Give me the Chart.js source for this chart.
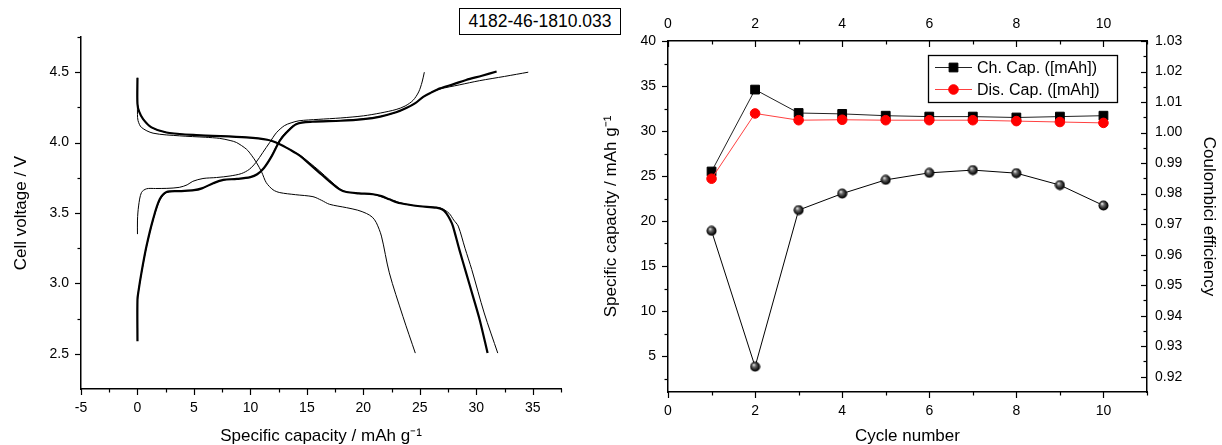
<!DOCTYPE html>
<html><head><meta charset="utf-8">
<script src="https://cdn.jsdelivr.net/npm/chart.js@4.4.1/dist/chart.umd.min.js"></script>
<style>
html,body{margin:0;padding:0;background:#fff;width:1222px;height:445px;overflow:hidden;}
#left{position:absolute;left:0;top:0;}
#right{position:absolute;left:590px;top:0;}
#tag{position:absolute;left:459px;top:8px;width:162px;height:27px;box-sizing:border-box;border:1px solid #000;
 font-family:'Liberation Sans',Arial,sans-serif;font-size:17.5px;line-height:25px;text-align:center;color:#000;background:#fff;z-index:5;}
</style></head>
<body>
<canvas id="left" width="590" height="445"></canvas>
<canvas id="right" width="632" height="445"></canvas>
<div id="tag">4182-46-1810.033</div>
<script>
// ---------- Left chart: voltage profiles ----------
const ch1Cap  = [0, 0, 0.1, 0.35, 0.8, 1.6, 2.6, 3.7, 4.4, 4.9, 5.8, 7.0, 8.2, 9.2, 9.9, 10.5, 11.1, 11.7, 12.3, 13.0, 13.6, 14.3, 16.0, 18.0, 20.0, 21.5, 22.9, 23.7, 24.4, 24.9, 25.2, 25.4];
const ch1Volt = [3.35, 3.45, 3.55, 3.645, 3.672, 3.674, 3.675, 3.682, 3.70, 3.725, 3.745, 3.752, 3.763, 3.78, 3.81, 3.86, 3.93, 4.0, 4.07, 4.12, 4.14, 4.155, 4.165, 4.175, 4.19, 4.21, 4.235, 4.26, 4.30, 4.36, 4.43, 4.50];

const chBundleCap  = [0, 0, 0.1, 0.35, 0.8, 1.38, 1.97, 2.57, 3.7, 5.0, 5.7, 6.7, 7.6, 8.8, 10.0, 10.6, 11.2, 11.9, 12.6, 13.2, 14.1, 15.5, 18.0, 20.0, 21.5, 22.9, 23.8, 24.6, 25.3, 26.0, 26.8, 28.0, 29.1, 30.5, 31.8];
const chBundleVolt = [2.59, 2.885, 2.95, 3.075, 3.265, 3.455, 3.597, 3.649, 3.656, 3.662, 3.675, 3.711, 3.735, 3.742, 3.755, 3.775, 3.82, 3.906, 4.013, 4.072, 4.132, 4.148, 4.155, 4.167, 4.185, 4.215, 4.245, 4.28, 4.325, 4.355, 4.385, 4.415, 4.445, 4.475, 4.505];

const ch2Cap  = [0, 0, 0.1, 0.35, 0.8, 1.38, 1.97, 2.57, 3.7, 5.0, 5.7, 6.7, 7.6, 8.8, 10.0, 10.6, 11.2, 11.9, 12.6, 13.2, 14.1, 15.5, 18.0, 20.0, 21.5, 22.9, 23.8, 24.6, 25.3, 26.0, 26.75, 28.5, 30.3, 32.5, 34.6];
const ch2Volt = [2.6, 2.88, 2.95, 3.07, 3.26, 3.45, 3.59, 3.645, 3.655, 3.662, 3.675, 3.71, 3.735, 3.742, 3.755, 3.775, 3.82, 3.91, 4.02, 4.08, 4.135, 4.15, 4.157, 4.168, 4.185, 4.215, 4.245, 4.28, 4.325, 4.355, 4.38, 4.41, 4.44, 4.47, 4.50];

const dis1Cap  = [0, 0, 0.05, 0.35, 1.38, 3.74, 6.0, 7.28, 8.2, 8.76, 9.65, 10.1, 10.53, 11.0, 11.4, 12.0, 12.6, 14.0, 15.54, 16.3, 17.0, 18.5, 19.5, 20.27, 20.8, 21.15, 21.6, 22.3, 23.5, 24.6];
const dis1Volt = [4.27, 4.2, 4.156, 4.108, 4.067, 4.048, 4.038, 4.03, 4.015, 4.001, 3.953, 3.91, 3.859, 3.79, 3.716, 3.665, 3.645, 3.63, 3.616, 3.59, 3.562, 3.538, 3.52, 3.497, 3.47, 3.431, 3.336, 3.075, 2.766, 2.505];

const disBundleCap  = [0, 0, 0.15, 0.5, 1.24, 2.57, 5.2, 9.65, 11.5, 12.6, 13.5, 14.4, 15.2, 16.1, 17.0, 17.9, 18.5, 19.6, 20.85, 21.6, 22.3, 23.0, 23.8, 25.0, 26.46, 27.0, 27.35, 27.7, 27.93, 28.5, 29.1, 29.7, 30.3, 31.0];
const disBundleVolt = [4.46, 4.274, 4.22, 4.167, 4.108, 4.072, 4.053, 4.037, 4.02, 3.989, 3.95, 3.906, 3.85, 3.787, 3.725, 3.668, 3.649, 3.64, 3.633, 3.62, 3.597, 3.575, 3.562, 3.548, 3.538, 3.525, 3.497, 3.45, 3.407, 3.24, 3.075, 2.91, 2.742, 2.505];

const dis2Cap  = [0, 0, 0.15, 0.5, 1.24, 2.57, 5.2, 9.65, 11.5, 12.6, 13.5, 14.4, 15.2, 16.1, 17.0, 17.9, 18.5, 19.6, 20.85, 22.3, 23.8, 25.0, 26.46, 27.0, 27.6, 28.0, 28.4, 29.0, 29.6, 30.7, 31.9];
const dis2Volt = [4.46, 4.274, 4.22, 4.167, 4.108, 4.072, 4.053, 4.037, 4.02, 3.989, 3.95, 3.91, 3.86, 3.80, 3.735, 3.672, 3.65, 3.64, 3.633, 3.597, 3.562, 3.548, 3.54, 3.53, 3.497, 3.45, 3.407, 3.25, 3.098, 2.79, 2.505];

const leftXTicks = [-5, 0, 5, 10, 15, 20, 25, 30, 35];
const leftXMinor = [-2.5, 2.5, 7.5, 12.5, 17.5, 22.5, 27.5, 32.5, 37.5];
const leftYTicks = [2.5, 3.0, 3.5, 4.0, 4.5];
const leftYMinor = [2.75, 3.25, 3.75, 4.25, 4.75];

// ---------- Right chart: cycling ----------
const cycles = [1, 2, 3, 4, 5, 6, 7, 8, 9, 10];
const chCap  = [25.5, 34.6, 32.0, 31.9, 31.7, 31.6, 31.6, 31.5, 31.6, 31.7];
const disCap = [24.7, 31.95, 31.2, 31.25, 31.2, 31.2, 31.2, 31.1, 31.0, 30.9];
const coulEff = [0.9678, 0.9233, 0.9746, 0.9800, 0.9845, 0.9868, 0.9877, 0.9867, 0.9828, 0.9761];

const cycleTicks = [0, 2, 4, 6, 8, 10];
const cycleMinor = [1, 3, 5, 7, 9, 11];
const capTicks = [5, 10, 15, 20, 25, 30, 35, 40];
const capMinor = [2.5, 7.5, 12.5, 17.5, 22.5, 27.5, 32.5, 37.5];
const ceTicks = [0.92, 0.93, 0.94, 0.95, 0.96, 0.97, 0.98, 0.99, 1.00, 1.01, 1.02, 1.03];
const ceMinor = [0.925, 0.935, 0.945, 0.955, 0.965, 0.975, 0.985, 0.995, 1.005, 1.015, 1.025];

const FONT = "'Liberation Sans', Arial, sans-serif";
Chart.defaults.font.family = FONT;
Chart.defaults.color = '#000';

const pts = (xs, ys) => xs.map((x, i) => ({x: x, y: ys[i]}));
const setTicks = arr => (s => { s.ticks = arr.map(v => ({value: v})); });

function makeTickPlugin(specs) {
  return {
    id: 'tickMarks',
    afterDraw(chart) {
      const ctx = chart.ctx, ca = chart.chartArea;
      ctx.save();
      ctx.strokeStyle = '#000';
      ctx.lineWidth = 1.2;
      specs.forEach(sp => {
        const s = chart.scales[sp.scale];
        const draw = (v, len) => {
          const p = Math.round(s.getPixelForValue(v)) + 0.5;
          ctx.beginPath();
          if (s.isHorizontal()) {
            const base = s.position === 'bottom' ? ca.bottom : ca.top;
            const outSign = s.position === 'bottom' ? 1 : -1;
            const sign = sp.dir === 'out' ? outSign : -outSign;
            ctx.moveTo(p, base); ctx.lineTo(p, base + sign * len);
          } else {
            const base = s.position === 'left' ? ca.left : ca.right;
            const outSign = s.position === 'left' ? -1 : 1;
            const sign = sp.dir === 'out' ? outSign : -outSign;
            ctx.moveTo(base, p); ctx.lineTo(base + sign * len, p);
          }
          ctx.stroke();
        };
        s.ticks.forEach(t => draw(t.value, 6));
        sp.minor.forEach(v => draw(v, 3.5));
      });
      ctx.restore();
    }
  };
}

const tickFont = {size: 14, family: FONT};
const titleFont = {size: 17, family: FONT, lineHeight: 1};
const gridOpts = {display: true, drawOnChartArea: false, drawTicks: false};
const borderOpts = {display: true, color: '#000', width: 1.5};

const thin = (xs, ys) => ({data: pts(xs, ys), showLine: true, pointRadius: 0, borderColor: '#000', borderWidth: 1, tension: 0.3, fill: false});
const thick = (xs, ys) => ({data: pts(xs, ys), showLine: true, pointRadius: 0, borderColor: '#000', borderWidth: 2.2, tension: 0.3, fill: false});

new Chart(document.getElementById('left'), {
  type: 'scatter',
  data: {datasets: [
    thin(ch1Cap, ch1Volt),
    thin(ch2Cap, ch2Volt),
    thin(dis1Cap, dis1Volt),
    thin(dis2Cap, dis2Volt),
    thick(chBundleCap, chBundleVolt),
    thick(disBundleCap, disBundleVolt)
  ]},
  options: {
    responsive: false, animation: false, devicePixelRatio: 1,
    layout: {padding: {left: 0, right: 29, top: 37, bottom: 0}},
    plugins: {legend: {display: false}, tooltip: {enabled: false}},
    scales: {
      x: {type: 'linear', position: 'bottom', min: -5, max: 37.5,
        afterBuildTicks: setTicks(leftXTicks), afterFit: s => { s.height = 56; },
        grid: gridOpts, border: borderOpts,
        ticks: {font: tickFont, padding: 11, color: '#000', callback: v => String(v)},
        title: {display: true, text: 'Specific capacity / mAh g\u207B\u00B9', font: titleFont, padding: {top: 0, bottom: 0}, color: '#000'}},
      y: {type: 'linear', position: 'left', min: 2.25, max: 4.75,
        afterBuildTicks: setTicks(leftYTicks), afterFit: s => { s.width = 81; },
        grid: gridOpts, border: borderOpts,
        ticks: {font: tickFont, padding: 12, color: '#000', callback: v => Number(v).toFixed(1)},
        title: {display: true, text: 'Cell voltage / V', font: titleFont, padding: {top: 13, bottom: 0}, color: '#000'}}
    }
  },
  plugins: [makeTickPlugin([
    {scale: 'x', dir: 'out', minor: leftXMinor},
    {scale: 'y', dir: 'out', minor: leftYMinor}
  ])]
});

// sphere marker for coulombic efficiency
function sphere() {
  const c = document.createElement('canvas');
  c.width = 11; c.height = 11;
  const g = c.getContext('2d');
  const grd = g.createRadialGradient(4, 3.6, 0.3, 5.5, 5.5, 5.4);
  grd.addColorStop(0, '#e6e6e6');
  grd.addColorStop(0.3, '#6a6a6a');
  grd.addColorStop(0.75, '#111');
  grd.addColorStop(1, '#000');
  g.fillStyle = grd;
  g.beginPath(); g.arc(5.5, 5.5, 5, 0, Math.PI * 2); g.fill();
  return c;
}
const sphereImg = sphere();

const legendPlugin = {
  id: 'boxLegend',
  afterDraw(chart) {
    const ctx = chart.ctx, ca = chart.chartArea;
    const x0 = ca.left + 260, y0 = ca.top + 14, w = 189, h = 47;
    ctx.save();
    ctx.fillStyle = '#fff';
    ctx.fillRect(x0, y0, w, h);
    ctx.strokeStyle = '#000'; ctx.lineWidth = 1.3;
    ctx.strokeRect(Math.round(x0) + 0.5, Math.round(y0) + 0.5, w, h);
    const items = chart.data.datasets.filter(d => d.legend);
    items.forEach((d, i) => {
      const cy = y0 + 12.5 + i * 22;
      ctx.strokeStyle = d.borderColor; ctx.lineWidth = 1.2;
      ctx.beginPath(); ctx.moveTo(x0 + 7, cy); ctx.lineTo(x0 + 44, cy); ctx.stroke();
      ctx.fillStyle = d.pointBackgroundColor; ctx.strokeStyle = d.pointBorderColor; ctx.lineWidth = 1;
      Chart.helpers.drawPoint(ctx, {pointStyle: d.pointStyle, radius: d.pointRadius, rotation: 0, borderWidth: 1}, x0 + 25.5, cy);
      ctx.fillStyle = '#000';
      ctx.font = '16px ' + FONT;
      ctx.textBaseline = 'middle'; ctx.textAlign = 'left';
      ctx.fillText(d.label, x0 + 49, cy + 1);
    });
    ctx.restore();
  }
};

new Chart(document.getElementById('right'), {
  type: 'scatter',
  data: {datasets: [
    {label: 'Ch. Cap. ([mAh])', legend: true, data: pts(cycles, chCap), showLine: true, xAxisID: 'x', yAxisID: 'y',
      borderColor: '#222', borderWidth: 1, pointStyle: 'rect', pointRadius: 6.2,
      pointBackgroundColor: '#000', pointBorderColor: '#000', pointBorderWidth: 1, order: 3},
    {label: 'Dis. Cap. ([mAh])', legend: true, data: pts(cycles, disCap), showLine: true, xAxisID: 'x', yAxisID: 'y',
      borderColor: '#ff4040', borderWidth: 1, pointStyle: 'circle', pointRadius: 4.8,
      pointBackgroundColor: '#ff0000', pointBorderColor: '#ff0000', pointBorderWidth: 1, order: 2},
    {label: 'Coulombic efficiency', legend: false, data: pts(cycles, coulEff), showLine: true, xAxisID: 'x', yAxisID: 'y1',
      borderColor: '#000', borderWidth: 1, pointStyle: sphereImg, pointRadius: 5,
      pointBackgroundColor: '#000', pointBorderColor: '#000', order: 1}
  ]},
  options: {
    responsive: false, animation: false, devicePixelRatio: 1,
    layout: {padding: 0},
    plugins: {legend: {display: false}, tooltip: {enabled: false}},
    scales: {
      x: {type: 'linear', axis: 'x', position: 'bottom', min: 0, max: 11,
        afterBuildTicks: setTicks(cycleTicks), afterFit: s => { s.height = 53; },
        grid: gridOpts, border: borderOpts,
        ticks: {font: tickFont, padding: 11, color: '#000', callback: v => String(v)},
        title: {display: true, text: 'Cycle number', font: titleFont, padding: {top: 0, bottom: 0}, color: '#000'}},
      x2: {type: 'linear', axis: 'x', position: 'top', min: 0, max: 11,
        afterBuildTicks: setTicks(cycleTicks), afterFit: s => { s.height = 41; },
        grid: gridOpts, border: borderOpts,
        ticks: {font: tickFont, padding: 8, color: '#000', callback: v => String(v)}},
      y: {type: 'linear', position: 'left', min: 1, max: 40,
        afterBuildTicks: setTicks(capTicks), afterFit: s => { s.width = 78; },
        grid: gridOpts, border: borderOpts,
        ticks: {font: tickFont, padding: 12, color: '#000', callback: v => String(v)},
        title: {display: true, text: 'Specific capacity / mAh g\u207B\u00B9', font: titleFont, padding: {top: 13, bottom: 0}, color: '#000'}},
      y1: {type: 'linear', position: 'right', min: 0.915, max: 1.03,
        afterBuildTicks: setTicks(ceTicks), afterFit: s => { s.width = 75; },
        grid: gridOpts, border: borderOpts,
        ticks: {font: tickFont, padding: 8, color: '#000', callback: v => Number(v).toFixed(2)},
        title: {display: true, text: 'Coulombici efficiency', font: titleFont, padding: {top: 5, bottom: 0}, color: '#000'}}
    }
  },
  plugins: [makeTickPlugin([
    {scale: 'x', dir: 'out', minor: cycleMinor},
    {scale: 'x2', dir: 'in', minor: cycleMinor},
    {scale: 'y', dir: 'out', minor: capMinor},
    {scale: 'y1', dir: 'in', minor: ceMinor}
  ]), legendPlugin]
});
</script>
</body></html>
